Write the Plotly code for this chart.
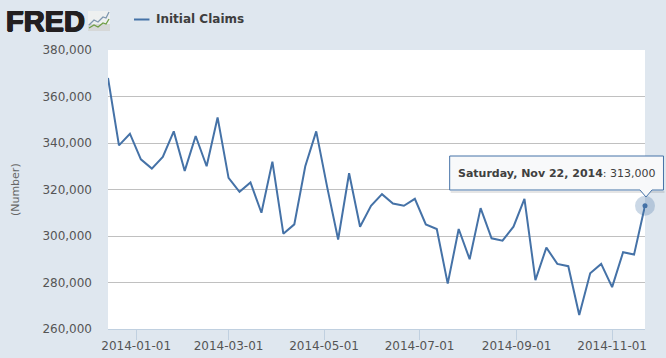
import plotly.graph_objects as go
import pandas as pd

series_name = "Initial Claims"
start_week = "2013-12-14"
claims = [368000, 339000, 344000, 333000, 329000, 334000, 345000, 328000, 343000, 330000,
          351000, 325000, 319000, 323000, 310000, 332000, 301000, 305000, 330000, 345000,
          321000, 298500, 327000, 304000, 313000, 318000, 314000, 313000, 316000, 305000,
          303000, 279500, 303000, 290000, 312000, 299000, 298000, 304000, 316000, 281000,
          295000, 288000, 287000, 266000, 284000, 288000, 278000, 293000, 292000, 313000]
weeks = pd.date_range(start_week, periods=len(claims), freq="7D")
x_ticks = ["2014-01-01", "2014-03-01", "2014-05-01", "2014-07-01", "2014-09-01", "2014-11-01"]
y_ticks = [260000, 280000, 300000, 320000, 340000, 360000, 380000]
y_labels = ["260,000", "280,000", "300,000", "320,000", "340,000", "360,000", "380,000"]
tooltip_date = "Saturday, Nov 22, 2014"
tooltip_value = "313,000"

BG = "#DFE7EF"
LINE = "#4572A7"
FONT = "DejaVu Sans"
L, R, T, B = 108, 20.5, 50, 29
PW, PH = 666 - L - R, 358 - T - B

fig = go.Figure()
fig.add_trace(go.Scatter(x=weeks, y=claims, mode="lines", name=series_name,
                         line=dict(color=LINE, width=2), cliponaxis=False))
fig.add_trace(go.Scatter(x=[weeks[-1]], y=[claims[-1]], mode="markers", showlegend=False,
                         marker=dict(size=20, color="rgba(69,114,167,0.28)"), cliponaxis=False))
fig.add_trace(go.Scatter(x=[weeks[-1]], y=[claims[-1]], mode="markers", showlegend=False,
                         marker=dict(size=5, color=LINE), cliponaxis=False))

px = lambda v: (v - L) / PW
py = lambda v: 1 - (v - T) / PH

shapes = [
    # logo icon
    dict(type="rect", xref="paper", yref="paper", x0=px(88), x1=px(110), y0=py(31), y1=py(11),
         fillcolor="#EEF0F0", line=dict(width=0), layer="above"),
    dict(type="rect", xref="paper", yref="paper", x0=px(88), x1=px(110), y0=py(31), y1=py(24),
         fillcolor="#D6D8D8", line=dict(width=0), layer="above"),
    dict(type="path", xref="paper", yref="paper", layer="above", line=dict(color="#7F97AE", width=1.3),
         path=f"M {px(89)} {py(25)} L {px(94)} {py(20)} L {px(98)} {py(22)} L {px(103)} {py(17)} L {px(106)} {py(18)} L {px(109)} {py(12)}"),
    dict(type="path", xref="paper", yref="paper", layer="above", line=dict(color="#6F9E45", width=1.3),
         path=f"M {px(89)} {py(28)} L {px(94)} {py(25)} L {px(98)} {py(27)} L {px(103)} {py(23)} L {px(106)} {py(24)} L {px(109)} {py(19)}"),
    # legend sample
    dict(type="line", xref="paper", yref="paper", layer="above", x0=px(134), x1=px(149.5), y0=py(19.5), y1=py(19.5),
         line=dict(color=LINE, width=2)),
    # tooltip box and caret
    dict(type="path", xref="paper", yref="paper", layer="above", fillcolor="rgba(0,0,0,0.10)",
         line=dict(width=0),
         path=f"M {px(451)} {py(191)} L {px(665)} {py(191)} L {px(665)} {py(193)} L {px(451)} {py(193)} Z"),
    dict(type="path", xref="paper", yref="paper", layer="above", fillcolor="#F8F9FA",
         line=dict(color=LINE, width=1),
         path=f"M {px(450)} {py(156)} L {px(664)} {py(156)} L {px(664)} {py(190)} L {px(652.5)} {py(190)} "
              f"L {px(646.5)} {py(197)} L {px(640.5)} {py(190)} L {px(450)} {py(190)} Z"),
]

annotations = [
    dict(text="<b>FRED</b>", xref="paper", yref="paper", x=px(5), y=py(21), xanchor="left", yanchor="middle",
         showarrow=False, borderpad=0,
         font=dict(family="Liberation Sans", size=29, color="#231F20",
                   shadow="0.7px 0 0 #231F20, -0.7px 0 0 #231F20, 0 0.5px 0 #231F20, 0 -0.5px 0 #231F20")),
    dict(text=f"<b>{series_name}</b>", xref="paper", yref="paper", x=px(154), y=py(18.5), xanchor="left",
         yanchor="middle", showarrow=False, font=dict(family=FONT, size=12, color="#3E3E3E")),
    dict(text=f"<b>{tooltip_date}</b>: {tooltip_value}", xref="paper", yref="paper",
         x=px(557), y=py(173), xanchor="center", yanchor="middle", showarrow=False,
         font=dict(family=FONT, size=11, color="#404040")),
    dict(text="(Number)", xref="paper", yref="paper", x=px(15), y=py(190), xanchor="center", yanchor="middle",
         textangle=-90, showarrow=False, font=dict(family=FONT, size=11, color="#666666")),
]

fig.update_layout(
    width=666, height=358,
    autosize=False,
    paper_bgcolor=BG, plot_bgcolor="#FFFFFF",
    margin=dict(l=L, r=R, t=T, b=B, autoexpand=False),
    font=dict(family=FONT),
    showlegend=False,
    shapes=shapes, annotations=annotations,
    xaxis=dict(range=[weeks[0], weeks[-1]], tickvals=x_ticks, tickformat="%Y-%m-%d", ticks="outside",
               ticklen=10, tickwidth=1, tickcolor="#C0D0E0", showgrid=False, showline=True,
               linecolor="#C0D0E0", linewidth=1, zeroline=False, automargin=False, ticklabelstandoff=-4,
               tickfont=dict(family=FONT, size=12, color="#555555")),
    yaxis=dict(range=[260000, 380000], tickvals=y_ticks, ticktext=y_labels, showgrid=True, automargin=False,
               gridcolor="#C0C0C0", gridwidth=1, zeroline=False, ticks="", ticklabelstandoff=15,
               tickfont=dict(family=FONT, size=12, color="#555555")),
)
fig.write_html("out.html", config=dict(displayModeBar=False),
               post_script="document.body.style.margin='0';document.documentElement.style.overflow='hidden';")
